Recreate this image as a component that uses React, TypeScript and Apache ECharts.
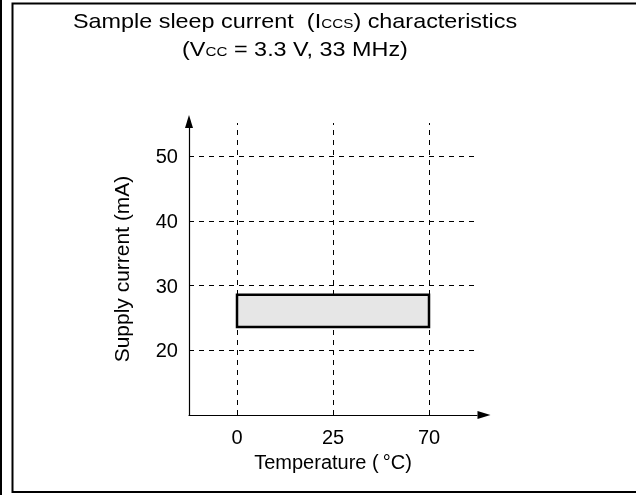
import React, { useEffect, useRef } from "react";
import * as echarts from "echarts";

const categories = ["0", "25", "70"];
const yTicks = [20, 30, 40, 50];
const rangeStart = "0";
const rangeEnd = "70";
const rangeLow = 23.6;
const rangeHigh = 28.6;

const FONT = "'Liberation Sans', Arial, sans-serif";

export default function App() {
  const ref = useRef<HTMLDivElement>(null);
  useEffect(() => {
    if (!ref.current) return;
    const chart = echarts.init(ref.current, null, { renderer: "svg" });
    const dash = { color: "#000", width: 1, type: [5, 5] as any };
    const titleRich = {
      a: { fontSize: 20, fontFamily: FONT, fill: "#000" },
      b: { fontSize: 13, fontFamily: FONT, fill: "#000", padding: [5, 0, 0, 0] },
    };
    chart.setOption({
      animation: false,
      textStyle: { fontFamily: FONT },
      grid: { left: 189, right: 159, top: 123, bottom: 80 },
      graphic: [
        { type: "line", shape: { x1: 1, y1: 0, x2: 1, y2: 495 }, style: { stroke: "#000", lineWidth: 2 } },
        { type: "rect", shape: { x: 12.5, y: 3.5, width: 700, height: 488.5 }, style: { fill: "none", stroke: "#000", lineWidth: 2 } },
        {
          type: "text", x: 295, y: 21, scaleX: 1.17,
          style: {
            text: "{a|Sample sleep current  (I}{b|CCS}{a|) characteristics}",
            align: "center", verticalAlign: "middle",
            rich: titleRich,
          },
        },
        {
          type: "text", x: 295, y: 49, scaleX: 1.17,
          style: {
            text: "{a|(V}{b|CC}{a| = 3.3 V, 33 MHz)}",
            align: "center", verticalAlign: "middle",
            rich: titleRich,
          },
        },
      ],
      xAxis: {
        type: "category",
        data: categories,
        boundaryGap: true,
        axisLine: { lineStyle: { color: "#000", width: 1.2 }, symbol: ["none", "triangle"], symbolSize: [8, 13], symbolOffset: [0, 7] },
        axisTick: { show: false },
        axisLabel: { color: "#000", fontSize: 20, margin: 12, fontFamily: FONT },
        splitLine: { show: false },
        name: "Temperature (\u2009°C)",
        nameLocation: "middle",
        nameGap: 33,
        nameTextStyle: { color: "#000", fontSize: 20, fontFamily: FONT },
      },
      yAxis: {
        type: "value",
        min: 10,
        max: 55.15,
        interval: 10,
        axisLine: { show: true, lineStyle: { color: "#000", width: 1.2 }, symbol: ["none", "triangle"], symbolSize: [8, 13], symbolOffset: [0, 1.5] },
        axisTick: { show: false },
        splitLine: { show: false },
        axisLabel: {
          color: "#000", fontSize: 20, margin: 11, fontFamily: FONT,
          formatter: (v: number) => (yTicks.includes(v) ? String(v) : ""),
        },
        name: "Supply current (mA)",
        nameLocation: "middle",
        nameGap: 57,
        nameRotate: 90,
        nameTextStyle: { color: "#000", fontSize: 21, fontFamily: FONT },
      },
      series: [
        {
          type: "custom",
          silent: true,
          encode: { x: [0, 1], y: [2, 3] },
          data: [[categories.indexOf(rangeStart), categories.indexOf(rangeEnd), rangeLow, rangeHigh]],
          renderItem: (params: any, api: any) => {
            const p1 = api.coord([api.value(0), api.value(3)]);
            const p2 = api.coord([api.value(1), api.value(2)]);
            return {
              type: "rect",
              z2: 10,
              shape: { x: p1[0], y: p1[1], width: p2[0] - p1[0], height: p2[1] - p1[1] },
              style: { fill: "#e6e6e6", stroke: "#000", lineWidth: 2.5 },
            };
          },
          markLine: {
            silent: true,
            symbol: "none",
            label: { show: false },
            lineStyle: dash,
            z: 1,
            data: [
              ...categories.map((c) => ({ xAxis: c })),
              ...yTicks.map((v) => ({ yAxis: v })),
            ],
          },
          z: 3,
        },
      ],
    });
    return () => chart.dispose();
  }, []);
  return <div ref={ref} style={{ position: "fixed", left: 0, top: 0, width: 636, height: 495 }} />;
}
